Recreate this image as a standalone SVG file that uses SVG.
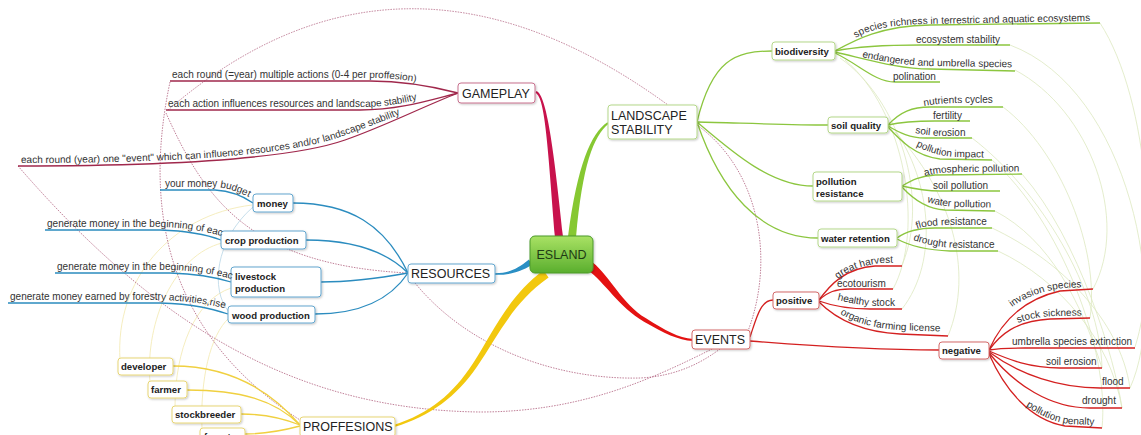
<svg xmlns="http://www.w3.org/2000/svg" width="1141" height="435" viewBox="0 0 1141 435">
<style>
.lbl{font-family:"Liberation Sans",Arial,sans-serif;font-size:10px;fill:#333}
.bx{font-family:"Liberation Sans",Arial,sans-serif;font-size:9.6px;font-weight:bold;fill:#222}
.mn{font-family:"Liberation Sans",Arial,sans-serif;font-size:12.5px;fill:#222}
.box{fill:#fff;stroke-width:1;filter:url(#sh)}
.sg{stroke:#b5d88a}.sb{stroke:#62a6cf}.sy{stroke:#e8d676}.sr{stroke:#d46a6a}.sm{stroke:#c8708e}
.cg{fill:none;stroke:#8cc63f;stroke-width:1.3}
.cb{fill:none;stroke:#2b8cbf;stroke-width:1.3}
.cy{fill:none;stroke:#f0d040;stroke-width:1.3}
.cr{fill:none;stroke:#d42020;stroke-width:1.3}
.cm{fill:none;stroke:#a0284c;stroke-width:1.3}
.rel{fill:none;stroke:#b0607e;stroke-width:0.8;stroke-dasharray:1.5 1.2}
.fg{fill:none;stroke:#dde8c0;stroke-width:0.8}
.fy{fill:none;stroke:#f4ebb8;stroke-width:0.9}
.fb{fill:none;stroke:#b8d6e6;stroke-width:0.8}
</style>
<defs>
<filter id="sh" x="-10%" y="-20%" width="130%" height="160%"><feDropShadow dx="1" dy="1" stdDeviation="0.8" flood-color="#000" flood-opacity="0.22"/></filter>
<linearGradient id="eg" x1="0" y1="0" x2="0" y2="1"><stop offset="0" stop-color="#a9e264"/><stop offset="1" stop-color="#5aae2e"/></linearGradient>
<path id="t1" d="M172,78 L370,78 C400,78 430,83 470,95"/>
<path id="t2" d="M168,107 L360,107 C395,107 420,100 470,84"/>
<path id="t3" d="M21,163 C150,163 280,158 340,137 C380,123 410,110 470,88"/>
<path id="t4" d="M165,187 L215,187 C230,188 240,192 262,204"/>
<path id="t5" d="M47,227 L160,227 C190,228 205,231 240,241"/>
<path id="t6" d="M57,270 L170,270 C200,271 215,274 250,284"/>
<path id="t7" d="M10,300 L160,300 C190,301 210,304 250,314"/>
<path id="t8" d="M856,38 C870,29 890,25 925,24 L1140,20"/>
<path id="t9" d="M862,57 C880,61 900,65 930,66 L1060,68"/>
<path id="t10" d="M924,106 C935,104 945,103 960,103 L1040,103"/>
<path id="t11" d="M915,133 C925,135 935,136 945,136 L1000,136"/>
<path id="t12" d="M916,146 C928,152 940,156 955,157 L1020,158"/>
<path id="t13" d="M925,176 C935,173 950,172 965,172 L1060,171"/>
<path id="t14" d="M927,202 C937,205 947,207 960,207 L1020,208"/>
<path id="t15" d="M917,229 C925,226 935,225 950,225 L1020,225"/>
<path id="t16" d="M913,240 C925,244 937,247 955,248 L1030,248"/>
<path id="t17" d="M838,279 C847,271 862,265 882,263 L930,262"/>
<path id="t18" d="M837,300 C850,303 860,305 875,306 L930,306"/>
<path id="t19" d="M840,314 C855,322 870,328 900,330 L980,333"/>
<path id="t20" d="M1012,307 C1025,297 1045,290 1065,288 L1120,286"/>
<path id="t21" d="M1018,323 C1030,318 1045,316 1060,316 L1120,315"/>
<path id="t22" d="M1026,406 C1039,415 1054,422 1069,424 L1130,426"/>
</defs>
<rect width="1141" height="435" fill="#fff"/>

<g id="connectors">
<path class="fg" d="M1100,23 C1150,100 1160,270 1135,347"/>
<path class="fg" d="M1015,70 C1090,110 1130,220 1093,289"/>
<path class="fg" d="M1010,45 C1130,90 1170,300 1130,388"/>
<path class="fg" d="M1003,107 C1060,150 1100,250 1090,318"/>
<path class="fg" d="M972,138 C1040,190 1100,290 1102,368"/>
<path class="fg" d="M992,160 C1060,220 1110,350 1102,428"/>
<path class="fg" d="M1022,174 C1080,240 1115,360 1122,408"/>
<path class="fg" d="M992,228 C1060,260 1120,320 1130,388"/>
<path class="fg" d="M998,251 C1060,280 1110,340 1122,408"/>
<path class="fg" d="M995,211 C1050,240 1080,300 1102,368"/>
<path class="fg" d="M840,58 C900,100 930,200 902,265"/>
<path class="fg" d="M845,60 C905,110 925,230 893,289"/>
<path class="fg" d="M895,130 C930,180 940,260 902,309"/>
<path class="fg" d="M895,132 C950,190 975,270 948,336"/>
<path class="fy" d="M120,360 C115,280 170,215 252,205"/>
<path class="fy" d="M150,382 C145,320 175,255 222,243"/>
<path class="fy" d="M175,407 C175,350 195,300 231,288"/>
<path class="fy" d="M202,429 C200,380 210,335 229,318"/>
<path class="fb" d="M253,207 C215,240 210,290 229,312"/>
<path class="rel" d="M168,110 Q400,-90 668,105"/>
<path class="rel" d="M166,113 C205,200 250,265 408,273"/>
<path class="rel" d="M170,82 C145,200 160,330 300,420"/>
<path class="rel" d="M18,166 C160,330 300,410 480,412 C580,412 650,380 712,349"/>
<path class="rel" d="M415,283 C470,350 560,380 640,378 C680,376 705,360 720,349"/>
<path class="rel" d="M697,125 C760,170 775,260 748,331"/>
<path fill="#c8124c" d="M535.6,92.9 C545.4,97.4 548,150.2 555,237.4 L563,236.6 C554,149.8 546.6,94.6 536.4,91.1 Z"/>
<path fill="#86c832" d="M608.6,123.8 C593.2,136.6 582.5,165.3 576,237.4 L568,236.6 C577.5,164.7 590.8,133.4 607.4,122.2 Z"/>
<path fill="#2a8fc4" d="M495,273.2 C508,273 516,270 529,259.5 L532,265 C518,273 508,275 495,274.8 Z"/>
<path fill="#f2c80e" d="M394.3,427 C430.4,416.2 456.8,396.2 477.1,366.4 C497.5,336.7 512.3,303.2 548.6,277.6 L543.4,270.3 C507.7,296.8 492.5,333.3 472.9,363.6 C453.2,393.8 429.6,413.8 393.7,425 Z"/>
<path fill="#e41212" d="M587.2,269.6 C605.5,283.2 618.7,307.1 644,321.7 C664.2,333.3 678,340.1 692.9,341 L693.1,339 C678,337.9 665.8,330.7 646,318.3 C621.3,302.9 610.5,276.8 592.8,262.4 Z"/>
<path class="cm" d="M458,93 C435,87 405,81 370,81 L170,81"/>
<path class="cm" d="M458,93 C430,100 400,110 360,110 L166,110"/>
<path class="cm" d="M458,93 C420,108 385,126 345,140 C285,161 150,166 18,166"/>
<path class="cb" d="M408,273 C385,225 350,203 293,203"/>
<path class="cb" d="M408,273 C385,250 350,240 306,240"/>
<path class="cb" d="M408,273 C380,278 350,282 321,282"/>
<path class="cb" d="M408,273 C390,300 360,314 315,314"/>
<path class="cb" d="M253,203 C243,196 232,191 215,190 L160,190"/>
<path class="cb" d="M221,240 C208,235 190,231 160,230 L45,230"/>
<path class="cb" d="M231,282 C218,278 200,274 170,273 L55,273"/>
<path class="cb" d="M228,314 C212,309 195,304 160,303 L8,303"/>
<path class="cy" d="M300,425 C270,390 230,366 173,366"/>
<path class="cy" d="M300,425 C275,400 240,390 187,390"/>
<path class="cy" d="M300,425 C280,417 260,414 241,414"/>
<path class="cy" d="M300,426 C285,430 265,434 245,434"/>
<path class="cg" d="M697,122 C712,60 735,51 772,51"/>
<path class="cg" d="M697,122 C740,123 790,125 828,125"/>
<path class="cg" d="M697,122 C730,150 770,186 813,186"/>
<path class="cg" d="M697,122 C720,190 760,238 818,238"/>
<path class="cg" d="M835,51 C855,40 880,26 930,25 L1100,23"/>
<path class="cg" d="M835,51 C860,46 890,45 920,45 L1010,45"/>
<path class="cg" d="M835,52 C870,60 900,69 930,69 L1015,71"/>
<path class="cg" d="M835,53 C860,65 875,82 895,82 L940,82"/>
<path class="cg" d="M888,125 C900,112 912,107 930,107 L1003,107"/>
<path class="cg" d="M888,125 C905,121 920,121 935,121 L970,121"/>
<path class="cg" d="M888,126 C900,133 910,138 925,138 L972,138"/>
<path class="cg" d="M888,127 C900,140 915,156 940,159 L992,160"/>
<path class="cg" d="M902,186 C912,180 920,176 935,175 L1022,174"/>
<path class="cg" d="M902,186 C915,189 925,191 940,191 L1000,191"/>
<path class="cg" d="M902,187 C912,198 925,209 945,210 L995,211"/>
<path class="cg" d="M897,238 C905,232 915,228 935,228 L992,228"/>
<path class="cg" d="M897,239 C910,246 925,250 950,251 L998,251"/>
<path class="cr" d="M750,337 C756,320 760,300 773,300"/>
<path class="cr" d="M750,341 C800,345 880,350 939,350"/>
<path class="cr" d="M819,300 C830,285 845,268 875,266 L902,266"/>
<path class="cr" d="M819,300 C828,292 835,289 850,289 L893,289"/>
<path class="cr" d="M819,301 C830,305 845,309 870,309 L902,309"/>
<path class="cr" d="M819,302 C835,318 860,332 900,334 L948,336"/>
<path class="cr" d="M989,350 C1000,325 1020,300 1060,291 L1093,289"/>
<path class="cr" d="M989,350 C1000,335 1015,321 1050,319 L1090,318"/>
<path class="cr" d="M989,350 C1000,348 1010,348 1025,348 L1135,348"/>
<path class="cr" d="M989,351 C1010,360 1030,368 1060,368 L1102,368"/>
<path class="cr" d="M989,352 C1020,375 1060,388 1100,388 L1130,388"/>
<path class="cr" d="M989,353 C1015,385 1050,408 1090,408 L1122,408"/>
<path class="cr" d="M989,354 C1005,390 1030,420 1065,426 L1102,428"/>
</g>

<g id="esland"><rect x="530" y="236" width="63" height="37" rx="5" fill="url(#eg)" stroke="#4c9a2a" filter="url(#sh)"/><text class="mn" x="561.5" y="259" text-anchor="middle" style="fill:#1e3a14">ESLAND</text></g>
<g id="gameplay"><rect class="box sm" x="458" y="83" width="77" height="20" rx="3"/><text class="mn" x="462" y="97.5">GAMEPLAY</text></g>
<g id="landscape"><rect class="box sg" x="608" y="105" width="89" height="34" rx="3"/><text class="mn" x="611" y="120">LANDSCAPE</text><text class="mn" x="611" y="134">STABILITY</text></g>
<g id="resources"><rect class="box sb" x="408" y="264" width="87" height="19" rx="3"/><text class="mn" x="411" y="278">RESOURCES</text></g>
<g id="events"><rect class="box sr" x="692" y="330" width="58" height="19" rx="3"/><text class="mn" x="695" y="344">EVENTS</text></g>
<g id="proffesions"><rect class="box sy" x="300" y="417" width="95" height="20" rx="3"/><text class="mn" x="303" y="431">PROFFESIONS</text></g>

<g id="biodiversity"><rect class="box sg" x="772" y="42" width="63" height="18" rx="3"/><text class="bx" x="775" y="55">biodiversity</text></g>
<g id="soil-quality"><rect class="box sg" x="828" y="117" width="60" height="16" rx="3"/><text class="bx" x="831" y="129">soil quality</text></g>
<g id="pollution-resistance"><rect class="box sg" x="813" y="172" width="89" height="29" rx="3"/><text class="bx" x="816" y="185">pollution</text><text class="bx" x="816" y="196.5">resistance</text></g>
<g id="water-retention"><rect class="box sg" x="818" y="229" width="79" height="18" rx="3"/><text class="bx" x="821" y="242">water retention</text></g>
<g id="money"><rect class="box sb" x="253" y="194" width="40" height="18" rx="3"/><text class="bx" x="257" y="207">money</text></g>
<g id="crop-production"><rect class="box sb" x="221" y="231" width="85" height="18" rx="3"/><text class="bx" x="225" y="244">crop production</text></g>
<g id="livestock-production"><rect class="box sb" x="231" y="267" width="90" height="30" rx="3"/><text class="bx" x="235" y="280">livestock</text><text class="bx" x="235" y="292">production</text></g>
<g id="wood-production"><rect class="box sb" x="228" y="306" width="87" height="17" rx="3"/><text class="bx" x="232" y="319">wood production</text></g>
<g id="developer"><rect class="box sy" x="118" y="358" width="55" height="17" rx="3"/><text class="bx" x="121" y="370">developer</text></g>
<g id="farmer"><rect class="box sy" x="148" y="381" width="39" height="17" rx="3"/><text class="bx" x="151" y="393">farmer</text></g>
<g id="stockbreeder"><rect class="box sy" x="172" y="406" width="69" height="17" rx="3"/><text class="bx" x="175" y="418">stockbreeder</text></g>
<g id="forester"><rect class="box sy" x="200" y="428" width="45" height="17" rx="3"/><text class="bx" x="204" y="440">forester</text></g>
<g id="positive"><rect class="box sr" x="773" y="292" width="46" height="17" rx="3"/><text class="bx" x="776" y="304">positive</text></g>
<g id="negative"><rect class="box sr" x="939" y="342" width="50" height="17" rx="3"/><text class="bx" x="942" y="354">negative</text></g>

<g id="gp-labels">
<text class="lbl"><textPath href="#t1">each round (=year) multiple actions (0-4 per proffesion)</textPath></text>
<text class="lbl"><textPath href="#t2">each action influences resources and landscape stability</textPath></text>
<text class="lbl"><textPath href="#t3">each round (year) one &quot;event&quot; which can influence resources and/or landscape stability</textPath></text>
</g>
<g id="res-labels">
<text class="lbl"><textPath href="#t4">your money budget</textPath></text>
<text class="lbl"><textPath href="#t5">generate money in the beginning of eac</textPath></text>
<text class="lbl"><textPath href="#t6">generate money in the beginning of eac</textPath></text>
<text class="lbl"><textPath href="#t7">generate money earned by forestry activities,rise</textPath></text>
</g>
<g id="ls-labels">
<text class="lbl"><textPath href="#t8">species richness in terrestric and aquatic ecosystems</textPath></text>
<text class="lbl" x="916" y="43">ecosystem stability</text>
<text class="lbl"><textPath href="#t9">endangered and umbrella species</textPath></text>
<text class="lbl" x="893" y="80">polination</text>
<text class="lbl"><textPath href="#t10">nutrients cycles</textPath></text>
<text class="lbl" x="933" y="119">fertility</text>
<text class="lbl"><textPath href="#t11">soil erosion</textPath></text>
<text class="lbl"><textPath href="#t12">pollution impact</textPath></text>
<text class="lbl"><textPath href="#t13">atmospheric pollution</textPath></text>
<text class="lbl" x="933" y="189">soil pollution</text>
<text class="lbl"><textPath href="#t14">water pollution</textPath></text>
<text class="lbl"><textPath href="#t15">flood resistance</textPath></text>
<text class="lbl"><textPath href="#t16">drought resistance</textPath></text>
</g>
<g id="ev-labels">
<text class="lbl"><textPath href="#t17">great harvest</textPath></text>
<text class="lbl" x="837" y="287">ecotourism</text>
<text class="lbl"><textPath href="#t18">healthy stock</textPath></text>
<text class="lbl"><textPath href="#t19">organic farming license</textPath></text>
<text class="lbl"><textPath href="#t20">invasion species</textPath></text>
<text class="lbl"><textPath href="#t21">stock sickness</textPath></text>
<text class="lbl" x="1012" y="345">umbrella species extinction</text>
<text class="lbl" x="1046" y="365">soil erosion</text>
<text class="lbl" x="1102" y="385">flood</text>
<text class="lbl" x="1082" y="404">drought</text>
<text class="lbl"><textPath href="#t22">pollution penalty</textPath></text>
</g>
</svg>
